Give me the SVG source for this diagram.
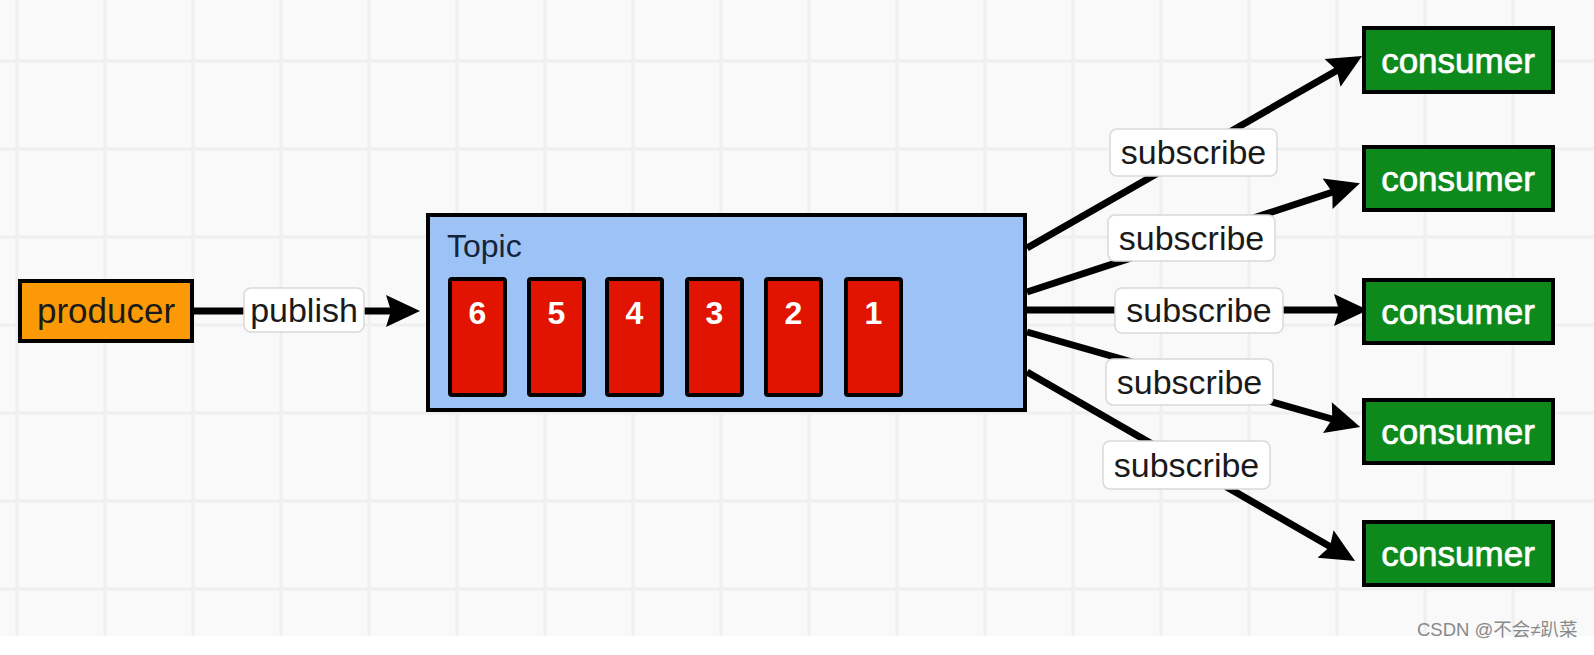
<svg xmlns="http://www.w3.org/2000/svg" width="1594" height="655" viewBox="0 0 1594 655">
<defs>
<pattern id="grid" x="0" y="0" width="88" height="88" patternUnits="userSpaceOnUse">
<rect width="88" height="88" fill="#f9f9f9"/>
<path d="M17 0V88M0 61H88" stroke="#efefef" stroke-width="3" fill="none"/>
</pattern>
<marker id="arrow" markerUnits="userSpaceOnUse" markerWidth="36" markerHeight="34" refX="12" refY="16" orient="auto" overflow="visible">
<path d="M0,0 L34,16 L0,32 L5,16 Z" fill="#000"/>
</marker>
<style>
.lbl{fill:#fff;stroke:#d9d9d9;stroke-width:1.5}
.lt{font-family:"Liberation Sans",Arial,sans-serif;font-size:34px;fill:#1a1a1a;text-anchor:middle}
.con{fill:#0e8a1c;stroke:#000;stroke-width:4}
.ct{font-family:"Liberation Sans",Arial,sans-serif;font-size:35px;fill:#fff;stroke:#fff;stroke-width:0.7;text-anchor:middle}
.part{fill:#e01400;stroke:#000;stroke-width:4}
.pt{font-family:"Liberation Sans",Arial,sans-serif;font-size:32px;font-weight:bold;fill:#fff;text-anchor:middle}
.edge{stroke:#000;stroke-width:7;fill:none;marker-end:url(#arrow)}
</style>
</defs>
<rect width="1594" height="655" fill="#ffffff"/>
<rect width="1594" height="636" fill="url(#grid)"/>

<g id="connectors">
<line class="edge" x1="192" y1="311" x2="398" y2="311"/>
<line class="edge" x1="1027" y1="248" x2="1343" y2="67"/>
<line class="edge" x1="1027" y1="292" x2="1339" y2="190"/>
<line class="edge" x1="1027" y1="310" x2="1346" y2="310"/>
<line class="edge" x1="1027" y1="332" x2="1339" y2="421"/>
<line class="edge" x1="1027" y1="372" x2="1336" y2="550"/>
<g id="edge-labels">
<rect class="lbl" x="244" y="288" width="120" height="44" rx="7"/>
<text class="lt" x="304" y="322">publish</text>
<rect class="lbl" x="1110" y="129" width="167" height="47" rx="7"/>
<text class="lt" x="1193.5" y="164">subscribe</text>
<rect class="lbl" x="1108" y="215" width="167" height="46" rx="7"/>
<text class="lt" x="1191.5" y="250">subscribe</text>
<rect class="lbl" x="1115" y="288" width="168" height="45" rx="7"/>
<text class="lt" x="1199" y="322">subscribe</text>
<rect class="lbl" x="1106" y="359" width="167" height="46" rx="7"/>
<text class="lt" x="1189.5" y="394">subscribe</text>
<rect class="lbl" x="1103" y="441" width="167" height="48" rx="7"/>
<text class="lt" x="1186.5" y="477">subscribe</text>
</g>
</g>

<g id="producer">
<rect x="20" y="281" width="172" height="60" fill="#fb9a06" stroke="#000" stroke-width="4"/>
<text class="lt" x="106" y="323" style="font-size:35px">producer</text>
</g>

<g id="topic">
<rect x="428" y="215" width="597" height="195" fill="#9dc3f6" stroke="#000" stroke-width="4"/>
<text x="447" y="257" font-family="Liberation Sans, Arial, sans-serif" font-size="32" fill="#14243a">Topic</text>
<g id="partition-6"><rect class="part" x="450" y="279" width="55" height="116" rx="2"/><text class="pt" x="477.5" y="324">6</text></g>
<g id="partition-5"><rect class="part" x="529" y="279" width="55" height="116" rx="2"/><text class="pt" x="556.5" y="324">5</text></g>
<g id="partition-4"><rect class="part" x="607" y="279" width="55" height="116" rx="2"/><text class="pt" x="634.5" y="324">4</text></g>
<g id="partition-3"><rect class="part" x="687" y="279" width="55" height="116" rx="2"/><text class="pt" x="714.5" y="324">3</text></g>
<g id="partition-2"><rect class="part" x="766" y="279" width="55" height="116" rx="2"/><text class="pt" x="793.5" y="324">2</text></g>
<g id="partition-1"><rect class="part" x="846" y="279" width="55" height="116" rx="2"/><text class="pt" x="873.5" y="324">1</text></g>
</g>

<g id="consumer-1"><rect class="con" x="1364" y="28" width="189" height="64"/><text class="ct" x="1458" y="73">consumer</text></g>
<g id="consumer-2"><rect class="con" x="1364" y="147" width="189" height="63"/><text class="ct" x="1458" y="191">consumer</text></g>
<g id="consumer-3"><rect class="con" x="1364" y="280" width="189" height="63"/><text class="ct" x="1458" y="324">consumer</text></g>
<g id="consumer-4"><rect class="con" x="1364" y="400" width="189" height="63"/><text class="ct" x="1458" y="444">consumer</text></g>
<g id="consumer-5"><rect class="con" x="1364" y="522" width="189" height="63"/><text class="ct" x="1458" y="566">consumer</text></g>

<text x="1417" y="636" font-family="Liberation Sans, Noto Sans CJK SC, sans-serif" font-size="18.5" fill="#8a8a8a">CSDN @不会≠趴菜</text>
</svg>
